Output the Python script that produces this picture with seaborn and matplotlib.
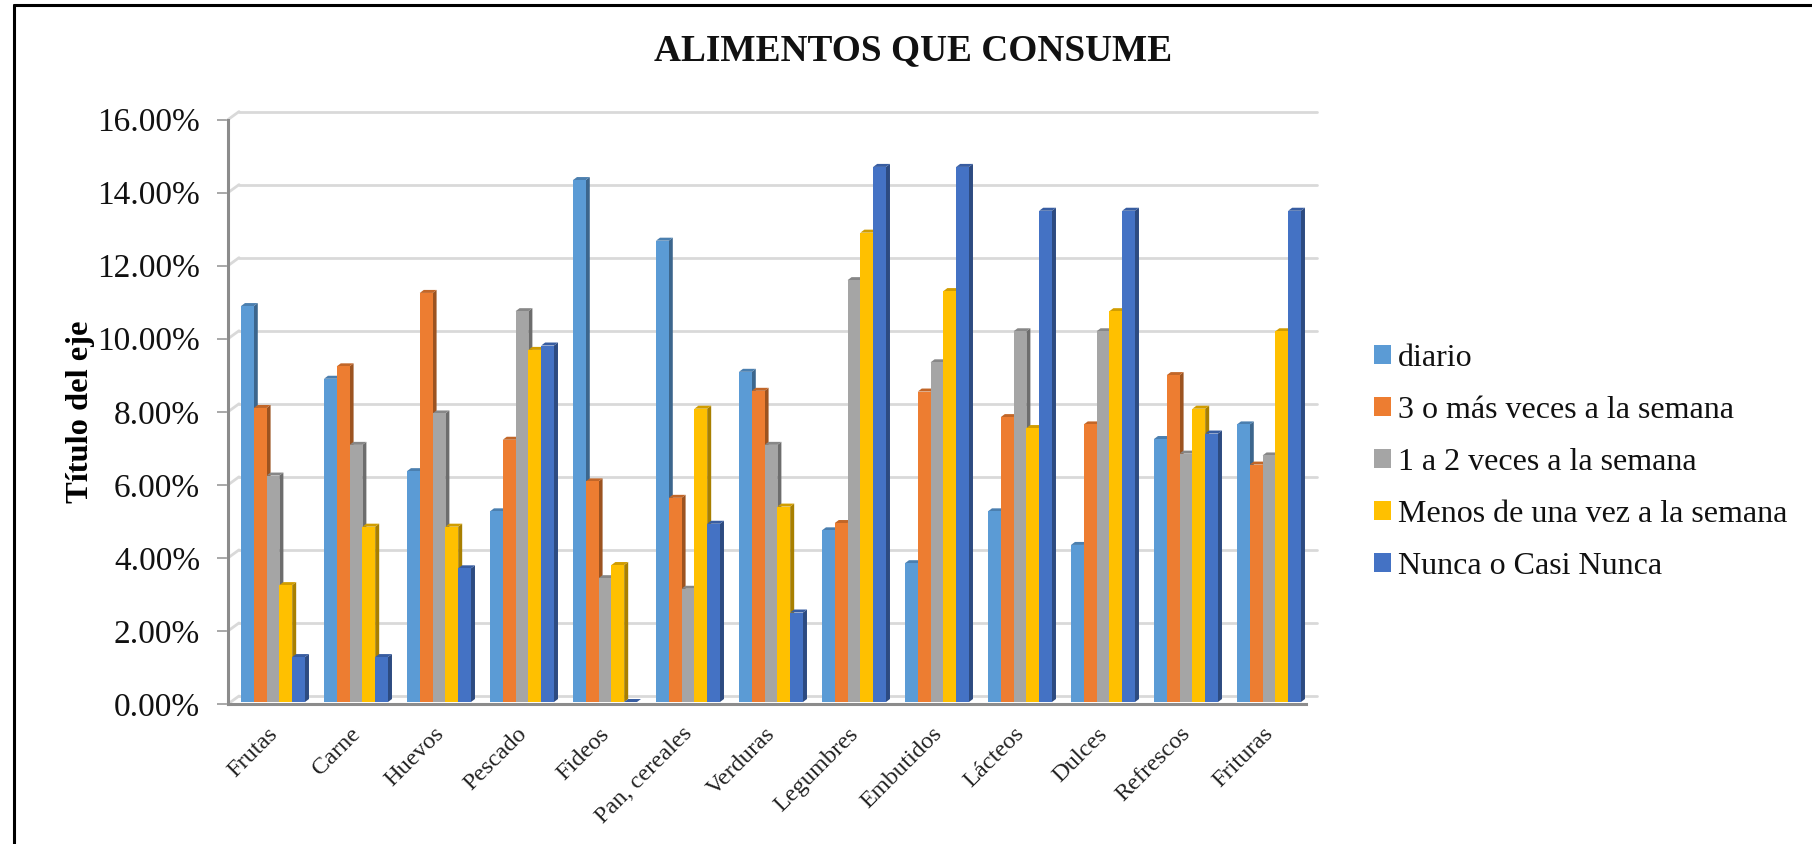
import matplotlib
matplotlib.use("Agg")
import matplotlib.pyplot as plt
from matplotlib.patches import Polygon, Rectangle
from matplotlib.lines import Line2D
from matplotlib.transforms import Affine2D, IdentityTransform
import pandas as pd
import seaborn as sns

categories = ["Frutas", "Carne", "Huevos", "Pescado", "Fideos", "Pan, cereales", "Verduras",
              "Legumbres", "Embutidos", "Lácteos", "Dulces", "Refrescos", "Frituras"]
diario = [10.84, 8.85, 6.32, 5.22, 14.29, 12.63, 9.04, 4.70, 3.80, 5.22, 4.30, 7.20, 7.60]
tres_mas = [8.05, 9.19, 11.20, 7.18, 6.04, 5.59, 8.52, 4.90, 8.50, 7.80, 7.60, 8.95, 6.50]
uno_dos = [6.20, 7.04, 7.90, 10.70, 3.39, 3.10, 7.04, 11.55, 9.30, 10.15, 10.15, 6.80, 6.75]
menos = [3.20, 4.80, 4.80, 9.64, 3.75, 8.03, 5.35, 12.85, 11.25, 7.50, 10.70, 8.03, 10.15]
nunca = [1.23, 1.23, 3.66, 9.76, 0.0, 4.88, 2.45, 14.65, 14.65, 13.45, 13.45, 7.35, 13.45]
series_names = ["diario", "3 o más veces a la semana", "1 a 2 veces a la semana",
                "Menos de una vez a la semana", "Nunca o Casi Nunca"]
palette = ["#5B9BD5", "#ED7D31", "#A5A5A5", "#FFC000", "#4472C4"]
y_ticks = [0, 2, 4, 6, 8, 10, 12, 14, 16]

W, H = 1812, 844
sns.set_theme(style="white")
plt.rcParams["font.family"] = ["Liberation Serif", "DejaVu Serif"]
fig = plt.figure(figsize=(W / 100, H / 100), dpi=100, facecolor="white")
ax = fig.add_axes([228 / W, 1 - 704 / H, (1306 - 228) / W, (704 - 119.6) / H])

df = pd.DataFrame({"cat": categories, **dict(zip(series_names, [diario, tres_mas, uno_dos, menos, nunca]))})
long = df.melt(id_vars="cat", var_name="serie", value_name="valor")
sns.barplot(data=long, x="cat", y="valor", hue="serie", hue_order=series_names, order=categories,
            palette=palette, width=0.771, gap=0, saturation=1, linewidth=0, legend=False, ax=ax, zorder=3)

ax.set_ylim(0, 16)
ax.set_xlim(-0.542, 12.446)
ax.set_yticks(y_ticks)
ax.set_yticklabels([f"{v:.2f}%" for v in y_ticks], fontsize=24, color="#111111")
ax.set_xticks(range(len(categories)))
ax.set_xticklabels(categories, rotation=45, ha="right", rotation_mode="anchor", fontsize=17.5, color="#222222")
ax.tick_params(axis="y", length=8, width=1.2, color="#9a9a9a", pad=12, left=True)
ax.tick_params(axis="x", length=0, pad=14)
for lab in ax.get_xticklabels():
    lab.set_transform(lab.get_transform() + Affine2D().translate(-6, 0))
ax.set_xlabel("")
ax.set_ylabel("Título del eje", fontsize=23.4, fontweight="bold", labelpad=1.5, color="black")
for s in ["top", "right"]:
    ax.spines[s].set_visible(False)
for s in ["left", "bottom"]:
    ax.spines[s].set_color("#8c8c8c")
    ax.spines[s].set_linewidth(2.2)
    ax.spines[s].set_zorder(6)

# Back wall gridlines and the links to the front axis, from the tick values
DX, DY = 11, 8
mix = ax.get_yaxis_transform() + Affine2D().translate(DX, DY)
front = ax.get_yaxis_transform()
for v in y_ticks:
    ax.add_line(Line2D([0, 1], [v, v], transform=mix, color="#d9d9d9", lw=2, zorder=1, clip_on=False))
    p0 = front.transform((0, v))
    ax.add_line(Line2D([p0[0], p0[0] + DX], [p0[1], p0[1] + DY], transform=IdentityTransform(),
                       color="#d9d9d9", lw=2, zorder=1, clip_on=False))

# Extruded look: each bar's side and top faces derive from its own rectangle
lift = Affine2D().translate(0, 2)
tr = ax.transData + lift
SIDE, RISE = 4, 3
for bar in list(ax.patches):
    bar.set_transform(tr)
    bar.set_clip_on(False)
    c = bar.get_facecolor()
    x0, x1 = bar.get_x(), bar.get_x() + bar.get_width()
    (px0, py0), (px1, py1) = tr.transform([(x0, 0), (x1, bar.get_height())])
    dark = tuple(v * 0.66 for v in c[:3])
    mid = tuple(v * 0.82 for v in c[:3])
    ax.add_patch(Polygon([(px1, py0), (px1 + SIDE, py0 + RISE), (px1 + SIDE, py1 + RISE), (px1, py1)],
                         closed=True, transform=IdentityTransform(), fc=dark, ec="none", zorder=2.8, clip_on=False))
    ax.add_patch(Polygon([(px0, py1), (px0 + SIDE, py1 + RISE), (px1 + SIDE, py1 + RISE), (px1, py1)],
                         closed=True, transform=IdentityTransform(), fc=mid, ec="none", zorder=2.9, clip_on=False))

handles = [Rectangle((0, 0), 1, 1, fc=c, ec="none") for c in palette]
fig.legend(handles, series_names, loc="center left", bbox_to_anchor=(1345 / W, 1 - 462.5 / H), frameon=False,
           fontsize=23, handlelength=0.53, handleheight=0.53, handletextpad=0.22, labelspacing=0.72,
           labelcolor="#111111")

fig.text(913 / W, 1 - 51 / H, "ALIMENTOS QUE CONSUME", ha="center", va="center", fontsize=26.9,
         fontweight="bold", color="#111111")

# Outer frame of the chart
fig.add_artist(Line2D([13.5 / W, 13.5 / W], [0, 1 - 5 / H], color="black", lw=2.2, transform=fig.transFigure))
fig.add_artist(Line2D([13.5 / W, 1], [1 - 5 / H, 1 - 5 / H], color="black", lw=2.2, transform=fig.transFigure))

fig.savefig("out.png", dpi=100, facecolor="white")
